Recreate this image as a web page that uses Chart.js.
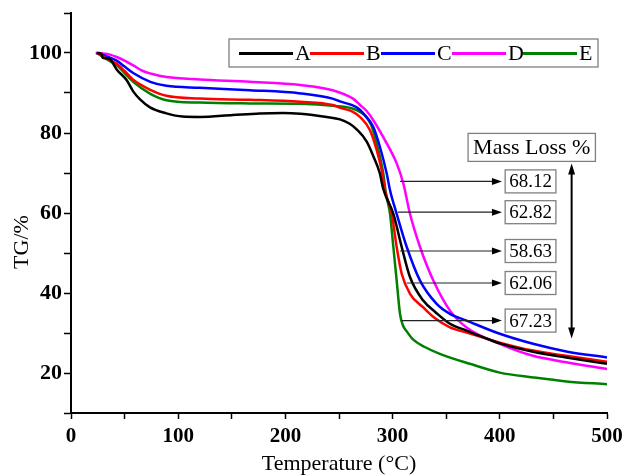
<!DOCTYPE html>
<html>
<head>
<meta charset="utf-8">
<script src="https://cdn.jsdelivr.net/npm/chart.js@4.4.0/dist/chart.umd.min.js"></script>
<style>
  html, body { margin: 0; padding: 0; background: #fff; }
  #wrap { width: 625px; height: 475px; }
</style>
</head>
<body>
<div id="wrap"><canvas id="tg" width="625" height="475"></canvas></div>
<script>
// sample names and line colours (legend order)
const sampleNames = ['A', 'B', 'C', 'D', 'E'];
const lineColors = ['#000000', '#ff0000', '#0000ff', '#ff00ff', '#008000'];

// TG curves: temperature (°C) and residual mass (%)
const tempA = [24, 28.5, 29.5, 33, 37, 42.6, 52, 58, 64.4, 73.7, 89, 104, 120, 151, 176, 198, 214, 238.5, 251, 260, 266.5, 276, 282, 288, 291.3, 300.7, 308.5, 316.2, 328.6, 340, 353.5, 369, 385, 400, 431, 462, 500];
const tgA   = [100, 99.8, 98.8, 98.7, 98.3, 95.9, 93.2, 90.4, 88.4, 86.4, 84.9, 84.1, 84.0, 84.5, 84.9, 85.0, 84.8, 84.0, 83.4, 82.3, 80.9, 77.8, 74.2, 70.0, 66.0, 59.8, 51.5, 44.0, 38.1, 35.2, 32.3, 30.6, 28.9, 27.4, 25.3, 23.9, 22.3];

const tempB = [24, 36, 42.6, 50, 58, 74, 89, 120, 167, 214, 244, 251, 263, 269.6, 278.9, 285.2, 289.8, 292.9, 299.2, 303.8, 308.5, 316.2, 328.6, 340, 353.5, 369, 400, 431, 462, 500];
const tgB   = [100, 98.3, 97.3, 95.5, 93.3, 90.8, 89.3, 88.6, 88.3, 87.8, 87.0, 86.3, 85.3, 84.0, 80.7, 75.7, 70.7, 65.7, 59.8, 51.5, 44.8, 39.8, 36.4, 33.6, 31.4, 30.1, 27.6, 25.6, 24.3, 22.8];

const tempC = [24, 36, 42.6, 50, 58, 74, 89, 120, 167, 214, 244, 251, 266.5, 272.7, 282, 288.2, 294.5, 297.6, 303.8, 313.2, 325.6, 341.1, 353.5, 369, 400, 431, 462, 500];
const tgC   = [100, 98.9, 98.1, 96.6, 95.0, 92.8, 91.8, 91.3, 90.7, 89.9, 88.6, 87.9, 86.4, 84.9, 81.5, 76.5, 69.9, 65.7, 59.8, 51.5, 43.1, 37.3, 34.8, 33.1, 29.8, 27.3, 25.4, 23.9];

const tempD = [23, 30, 36.4, 42.6, 50, 58, 67, 75, 89, 120, 167, 214, 244, 263, 269.6, 275.8, 282, 294.5, 303.8, 310, 316.2, 325.6, 338, 353.5, 369, 400, 431, 462, 500];
const tgD   = [100, 99.9, 99.6, 99.0, 98.1, 96.9, 95.5, 94.8, 94.0, 93.4, 92.8, 92.0, 90.7, 88.6, 87.0, 85.5, 83.2, 77.4, 72.4, 67.4, 59.8, 51.5, 43.1, 35.6, 31.4, 27.3, 24.3, 22.7, 21.0];

const tempE = [24, 36, 42.6, 50, 58, 74, 89, 120, 167, 214, 244, 266.5, 280, 286.7, 291.3, 294, 297.6, 300.7, 303.8, 306.9, 309.5, 313.2, 319, 330, 344, 372, 400, 431, 462, 500];
const tgE   = [100, 98.0, 97.0, 95.0, 92.8, 89.8, 88.2, 87.6, 87.4, 87.3, 86.8, 85.7, 82.0, 75.7, 69.9, 64.5, 59.8, 51.5, 43.1, 34.8, 32.0, 30.4, 28.4, 26.5, 24.8, 22.3, 20.1, 18.9, 17.9, 17.2];

// mass loss annotations (top to bottom): label, arrow height, where the arrow leaves the curve
const massLossLabels = ['68.12', '62.82', '58.63', '62.06', '67.23'];
const arrowY = [67.9, 60.2, 50.5, 42.5, 33.1];
const arrowStartX = [307, 305, 307, 313, 308.5];

// axis ticks
const xLabelTicks = [0, 100, 200, 300, 400, 500];
const yLabelTicks = [20, 40, 60, 80, 100];

const serif = '"Liberation Serif", "Times New Roman", serif';

const temps = [tempA, tempB, tempC, tempD, tempE];
const tgs = [tgA, tgB, tgC, tgD, tgE];

const datasets = sampleNames.map((name, i) => ({
  label: name,
  data: temps[i].map((t, j) => ({ x: t, y: tgs[i][j] })),
  borderColor: lineColors[i],
  borderWidth: 2.5,
  pointRadius: 0,
  fill: false,
  cubicInterpolationMode: 'monotone'
}));

function hArrowHead(ctx, x, y) {
  ctx.beginPath();
  ctx.moveTo(x, y);
  ctx.lineTo(x - 10, y - 3.5);
  ctx.lineTo(x - 10, y + 3.5);
  ctx.closePath();
  ctx.fill();
}

function vArrowHead(ctx, x, y, up) {
  const d = up ? 11 : -11;
  ctx.beginPath();
  ctx.moveTo(x, y);
  ctx.lineTo(x - 3.5, y + d);
  ctx.lineTo(x + 3.5, y + d);
  ctx.closePath();
  ctx.fill();
}

const extras = {
  id: 'extras',
  afterDatasetsDraw(chart) {
    const { ctx, scales: { x, y } } = chart;
    ctx.save();

    // legend box
    ctx.fillStyle = '#fff';
    ctx.fillRect(229, 39, 369, 28);
    ctx.strokeStyle = '#808080';
    ctx.lineWidth = 1.3;
    ctx.strokeRect(229, 39, 369, 28);
    ctx.font = '22px ' + serif;
    ctx.textBaseline = 'middle';
    ctx.textAlign = 'left';
    sampleNames.forEach((name, i) => {
      const sx = 239 + 71 * i;
      ctx.strokeStyle = lineColors[i];
      ctx.lineWidth = 3;
      ctx.beginPath();
      ctx.moveTo(sx, 53.5);
      ctx.lineTo(sx + 54, 53.5);
      ctx.stroke();
      ctx.fillStyle = '#000';
      ctx.fillText(name, sx + 56, 54);
    });

    // arrows and mass loss boxes
    const endX = x.getPixelForValue(402);
    const boxX = x.getPixelForValue(405);
    ctx.font = '19px ' + serif;
    massLossLabels.forEach((txt, i) => {
      const py = y.getPixelForValue(arrowY[i]);
      ctx.strokeStyle = '#222';
      ctx.lineWidth = 1.2;
      ctx.beginPath();
      ctx.moveTo(x.getPixelForValue(arrowStartX[i]), py);
      ctx.lineTo(endX - 6, py);
      ctx.stroke();
      ctx.fillStyle = '#000';
      hArrowHead(ctx, endX, py);

      const w = ctx.measureText(txt).width + 8;
      ctx.fillStyle = '#fff';
      ctx.fillRect(boxX, py - 11.5, w, 23);
      ctx.strokeStyle = '#808080';
      ctx.lineWidth = 1.3;
      ctx.strokeRect(boxX, py - 11.5, w, 23);
      ctx.fillStyle = '#000';
      ctx.fillText(txt, boxX + 4, py + 1);
    });

    // Mass Loss % header
    const hx = x.getPixelForValue(429.8);
    const hy = y.getPixelForValue(76.4);
    ctx.font = '22px ' + serif;
    const hw = ctx.measureText('Mass Loss %').width + 10;
    ctx.fillStyle = '#fff';
    ctx.fillRect(hx - hw / 2, hy - 14, hw, 28);
    ctx.strokeStyle = '#808080';
    ctx.lineWidth = 1.3;
    ctx.strokeRect(hx - hw / 2, hy - 14, hw, 28);
    ctx.fillStyle = '#000';
    ctx.textAlign = 'center';
    ctx.fillText('Mass Loss %', hx, hy + 1);

    // double headed vertical arrow
    const vx = x.getPixelForValue(467);
    const vTop = y.getPixelForValue(72.4);
    const vBot = y.getPixelForValue(28.6);
    ctx.strokeStyle = '#000';
    ctx.lineWidth = 2;
    ctx.beginPath();
    ctx.moveTo(vx, vTop + 6);
    ctx.lineTo(vx, vBot - 6);
    ctx.stroke();
    vArrowHead(ctx, vx, vTop, true);
    vArrowHead(ctx, vx, vBot, false);

    // y axis title
    ctx.save();
    ctx.translate(22, 242);
    ctx.rotate(-Math.PI / 2);
    ctx.font = '22px ' + serif;
    ctx.textAlign = 'center';
    ctx.textBaseline = 'middle';
    ctx.fillText('TG/%', 0, 0);
    ctx.restore();

    ctx.restore();
  }
};

new Chart(document.getElementById('tg').getContext('2d'), {
  type: 'line',
  data: { datasets },
  options: {
    responsive: false,
    animation: false,
    devicePixelRatio: 1,
    layout: { padding: { top: 13, right: 18, left: 0, bottom: 0 } },
    plugins: { legend: { display: false }, tooltip: { enabled: false } },
    scales: {
      x: {
        type: 'linear',
        min: 0,
        max: 500,
        ticks: {
          stepSize: 50,
          autoSkip: false,
          maxRotation: 0,
          padding: 5,
          color: '#000',
          font: { family: serif, size: 21, weight: 'bold' },
          callback: v => xLabelTicks.includes(v) ? v : ''
        },
        grid: { drawOnChartArea: false, tickLength: 6, tickColor: '#000', tickWidth: 1.5 },
        border: { color: '#000', width: 2 },
        title: {
          display: true,
          text: 'Temperature (°C)',
          color: '#000',
          font: { family: serif, size: 22, lineHeight: 1 },
          padding: { top: 0, bottom: 0 }
        },
        afterFit: s => { s.height = 62; s.paddingLeft = 0; s.paddingRight = 0; }
      },
      y: {
        min: 10,
        max: 110,
        ticks: {
          stepSize: 10,
          autoSkip: false,
          padding: 2,
          color: '#000',
          font: { family: serif, size: 22, weight: 'bold' },
          callback: v => yLabelTicks.includes(v) ? v : ''
        },
        grid: { drawOnChartArea: false, tickLength: 7, tickColor: '#000', tickWidth: 1.5 },
        border: { color: '#000', width: 2 },
        afterFit: s => { s.width = 71; s.paddingTop = 0; s.paddingBottom = 0; }
      }
    }
  },
  plugins: [extras]
});
</script>
</body>
</html>
